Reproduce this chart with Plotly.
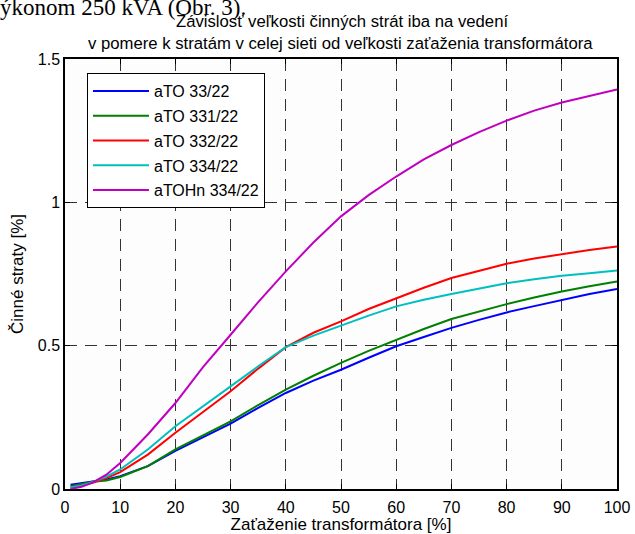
import plotly.graph_objects as go

# Load of transformer [%]
x_load = [1, 3, 5, 7.5, 10, 15, 20, 25, 30, 35, 40, 45, 50, 55, 60, 65, 70, 75, 80, 85, 90, 95, 100]

# Active losses [%]
aTO_33_22 = [0.015, 0.020, 0.027, 0.033, 0.045, 0.080, 0.133, 0.180, 0.228, 0.283, 0.335, 0.378, 0.416,
             0.458, 0.498, 0.530, 0.562, 0.590, 0.616, 0.638, 0.660, 0.680, 0.698]
aTO_331_22 = [0.010, 0.017, 0.025, 0.030, 0.042, 0.080, 0.138, 0.187, 0.236, 0.293, 0.347, 0.395, 0.440,
              0.482, 0.521, 0.558, 0.593, 0.620, 0.645, 0.668, 0.689, 0.707, 0.724]
aTO_332_22 = [0.005, 0.012, 0.022, 0.038, 0.059, 0.120, 0.196, 0.270, 0.341, 0.420, 0.495, 0.545, 0.585,
              0.628, 0.666, 0.702, 0.736, 0.762, 0.786, 0.804, 0.820, 0.834, 0.846]
aTO_334_22 = [0.005, 0.012, 0.024, 0.043, 0.068, 0.138, 0.219, 0.290, 0.358, 0.428, 0.495, 0.535, 0.570,
              0.605, 0.637, 0.660, 0.680, 0.700, 0.718, 0.732, 0.744, 0.753, 0.762]
aTOHn_334_22 = [0.000, 0.008, 0.022, 0.050, 0.091, 0.190, 0.300, 0.425, 0.538, 0.652, 0.759, 0.860, 0.951,
                1.025, 1.090, 1.150, 1.200, 1.245, 1.285, 1.320, 1.348, 1.372, 1.394]

series_names = ["aTO 33/22", "aTO 331/22", "aTO 332/22", "aTO 334/22", "aTOHn 334/22"]
series_values = [aTO_33_22, aTO_331_22, aTO_332_22, aTO_334_22, aTOHn_334_22]
series_colors = ["#0000ff", "#008000", "#ff0000", "#00bfbf", "#bf00bf"]

x_ticks = [0, 10, 20, 30, 40, 50, 60, 70, 80, 90, 100]
y_ticks = [0, 0.5, 1, 1.5]
y_tick_labels = ["0", "0.5", "1", "1.5"]

fig = go.Figure()
for i, (name, vals, col) in enumerate(zip(series_names, series_values, series_colors)):
    fig.add_trace(go.Scatter(x=x_load, y=vals, mode="lines", name=name,
                             legendgroup=f"g{i}",
                             line=dict(color=col, width=2)))

W, H = 635, 534
L, R, T, B = 65, 17.5, 59, 44.5
pw, ph = W - L - R, H - T - B

def px2x(p):
    return (p - L) / pw

def px2y(p):
    return (H - B - p) / ph

font_family = "Liberation Sans, Arial, sans-serif"
FS = 16
FT = 17

axis_common = dict(
    showline=True, linecolor="black", linewidth=1.5, mirror="ticks",
    ticks="inside", ticklen=5, tickcolor="black", tickwidth=1,
    showgrid=True, gridcolor="#333333", gridwidth=1, griddash="12px,8px",
    zeroline=False, automargin=False,
    tickfont=dict(size=FS, color="black", family=font_family),
)

fig.update_xaxes(range=[0, 100], tickvals=x_ticks, ticklabelstandoff=3,
                 title=dict(text="Zaťaženie transformátora [%]", font=dict(size=FT, color="black", family=font_family), standoff=0),
                 **axis_common)
fig.update_yaxes(range=[0, 1.5], tickvals=y_ticks, ticktext=y_tick_labels, ticklabelstandoff=0,
                 title=dict(text="Činné straty [%]", font=dict(size=FT, color="black", family=font_family), standoff=10),
                 **axis_common)

annotations = [
    dict(text="ýkonom 250 kVA (Obr. 3).", x=px2x(-2), y=px2y(22), xref="paper", yref="paper",
         xanchor="left", yanchor="bottom", showarrow=False,
         font=dict(family="Liberation Serif, Times New Roman, serif", size=23, color="black")),
    dict(text="Závislosť veľkosti činných strát iba na vedení", x=px2x(342), y=px2y(21),
         xref="paper", yref="paper", xanchor="center", yanchor="middle", showarrow=False,
         font=dict(family=font_family, size=16.7, color="black")),
    dict(text="v pomere k stratám v celej sieti od veľkosti zaťaženia transformátora", x=px2x(341), y=px2y(43),
         xref="paper", yref="paper", xanchor="center", yanchor="middle", showarrow=False,
         font=dict(family=font_family, size=16.7, color="black")),
]

fig.update_layout(
    width=W, height=H,
    margin=dict(l=L, r=R, t=T, b=B, pad=0, autoexpand=False),
    paper_bgcolor="white", plot_bgcolor="#fdfdfd",
    font=dict(family=font_family, size=FS, color="black"),
    annotations=annotations,
    showlegend=True,
    legend=dict(x=px2x(87), y=px2y(73), xanchor="left", yanchor="top",
                bgcolor="white", bordercolor="black", borderwidth=1,
                font=dict(size=FS, color="black", family=font_family),
                traceorder="grouped", tracegroupgap=1, itemwidth=56),
)

fig.write_html("out.html", config={"displayModeBar": False},
               post_script="document.body.style.margin='0px';document.body.style.overflow='hidden';")
